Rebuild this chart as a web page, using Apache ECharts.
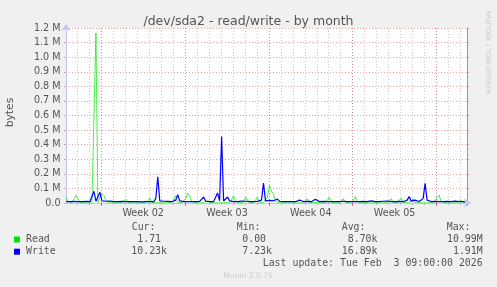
<!DOCTYPE html>
<html><head><meta charset="utf-8">
<script src="https://cdn.jsdelivr.net/npm/echarts@6/dist/echarts.min.js"></script>
<style>html,body{margin:0;padding:0;background:#f0f0f0}#c{width:497px;height:287px}</style>
</head><body><div id="c"></div>
<script>
// ---- data ----
const chartTitle = '/dev/sda2 - read/write - by month';
const yAxisName = 'bytes';
const seriesNames = ['Read', 'Write'];
// days counted from Mon 29 Dec 2025 00:00 (start of ISO week 1 of 2026)
const rangeStartDay = 4.05;
const rangeDays = 33.5;
const sampleStepDays = 1 / 6; // 4 hours
// values in millions of bytes
const readValues = [
  0.040,0.010,0.002,0.001,0.003,0.055,0.030,0.002,0.001,0.002,
  0.001,0.001,0.002,0.001,0.002,1.165,0.003,0.040,0.065,0.050,
  0.020,0.002,0.001,0.001,0.002,0.001,0.001,0.002,0.001,0.010,
  0.025,0.003,0.001,0.002,0.001,0.001,0.002,0.001,0.001,0.002,
  0.001,0.010,0.035,0.004,0.001,0.002,0.001,0.001,0.002,0.001,
  0.001,0.002,0.001,0.003,0.020,0.050,0.005,0.001,0.002,0.001,
  0.030,0.065,0.050,0.010,0.001,0.002,0.001,0.001,0.002,0.001,
  0.008,0.020,0.003,0.001,0.002,0.001,0.001,0.002,0.001,0.001,
  0.002,0.001,0.003,0.020,0.050,0.010,0.001,0.002,0.001,0.003,
  0.040,0.030,0.003,0.001,0.002,0.010,0.040,0.005,0.001,0.002,
  0.001,0.040,0.120,0.080,0.060,0.010,0.002,0.001,0.001,0.002,
  0.001,0.001,0.002,0.001,0.001,0.002,0.001,0.001,0.002,0.001,
  0.010,0.030,0.004,0.001,0.002,0.001,0.003,0.015,0.002,0.001,
  0.001,0.010,0.040,0.005,0.001,0.002,0.001,0.001,0.010,0.030,
  0.003,0.001,0.002,0.001,0.015,0.045,0.010,0.001,0.002,0.001,
  0.001,0.002,0.001,0.001,0.002,0.001,0.001,0.002,0.001,0.001,
  0.002,0.001,0.010,0.030,0.003,0.001,0.002,0.010,0.035,0.004,
  0.001,0.002,0.001,0.010,0.030,0.003,0.001,0.002,0.001,0.001,
  0.002,0.001,0.001,0.002,0.001,0.010,0.040,0.055,0.010,0.001,
  0.002,0.001,0.001,0.002,0.001,0.001,0.002,0.008,0.020,0.002,
  0.001
];
const writeValues = [
  0.010,0.014,0.010,0.016,0.011,0.009,0.010,0.008,0.010,0.009,
  0.011,0.010,0.009,0.020,0.080,0.012,0.020,0.073,0.014,0.010,
  0.012,0.009,0.013,0.010,0.009,0.011,0.010,0.008,0.011,0.010,
  0.009,0.012,0.010,0.009,0.010,0.011,0.009,0.010,0.008,0.011,
  0.010,0.009,0.010,0.012,0.010,0.030,0.180,0.015,0.010,0.012,
  0.009,0.011,0.010,0.009,0.012,0.020,0.057,0.015,0.010,0.009,
  0.011,0.010,0.009,0.010,0.012,0.010,0.009,0.011,0.015,0.041,
  0.012,0.010,0.009,0.011,0.010,0.012,0.068,0.015,0.456,0.014,
  0.012,0.041,0.015,0.010,0.009,0.011,0.010,0.009,0.013,0.020,
  0.012,0.010,0.009,0.011,0.010,0.009,0.011,0.010,0.020,0.137,
  0.015,0.012,0.018,0.013,0.015,0.012,0.027,0.012,0.010,0.009,
  0.011,0.010,0.009,0.010,0.011,0.009,0.012,0.020,0.011,0.010,
  0.009,0.011,0.010,0.009,0.013,0.025,0.012,0.010,0.009,0.011,
  0.010,0.009,0.011,0.010,0.009,0.010,0.011,0.009,0.010,0.012,
  0.010,0.009,0.011,0.010,0.009,0.010,0.011,0.009,0.010,0.011,
  0.009,0.010,0.011,0.014,0.010,0.009,0.011,0.010,0.009,0.012,
  0.020,0.013,0.010,0.009,0.011,0.010,0.009,0.011,0.010,0.009,
  0.012,0.020,0.044,0.013,0.011,0.020,0.012,0.010,0.011,0.030,
  0.135,0.020,0.011,0.010,0.009,0.011,0.010,0.009,0.011,0.010,
  0.009,0.011,0.010,0.009,0.011,0.013,0.010,0.009,0.011,0.010,
  0.010
];
const statHeaders = ['Cur:', 'Min:', 'Avg:', 'Max:'];
const readStats = [1.71, 0, 8700, 10990000];
const writeStats = [10230, 7230, 16890, 1910000];
const lastUpdateText = 'Last update: Tue Feb  3 09:00:00 2026';
const footerText = 'Munin 2.0.75';
const watermarkText = 'RRDTOOL / TOBI OETIKER';
const yMax = 1.2, yStep = 0.1;

// ---- layout / styling ----
const colors = ['#00e600', '#0000ff'];
const SANS = '"DejaVu Sans", sans-serif';
const MONO = '"DejaVu Sans Mono", monospace';
const TXT = '#555555';
const AXIS = '#c4c4f4';
const MGRID = 'rgba(215,90,90,0.55)';
const GRID = 'rgba(170,170,170,0.6)';
const PL = 66, PR = 30, PT = 28, PB = 84, W = 497;
const plotW = W - PL - PR;

function toPairs(vals) { return vals.map((v, i) => [rangeStartDay + i * sampleStepDays, v]); }
function fmtStat(v) {
  if (v >= 1e6) return (v / 1e6).toFixed(2) + 'M';
  if (v >= 1e3) return (v / 1e3).toFixed(2) + 'k';
  return v.toFixed(2) + ' ';
}
const xMin = rangeStartDay, xMax = rangeStartDay + rangeDays;
const ppd = plotW / rangeDays;
// helper grids whose axes start exactly on a tick (day / week boundary / mid-week)
const dayMin = Math.ceil(xMin);
const weekMin = Math.ceil(xMin / 7) * 7;
const midMin = weekMin + 3.5;
const leftFor = m => PL + (m - xMin) * ppd;

const chart = echarts.init(document.getElementById('c'), null, {renderer: 'canvas'});
const colRight = [167, 272, 377.5, 482.7];
const colLeft = [131.7, 236.7, 341.7, 446.7];
const graphics = [];
statHeaders.forEach((h, k) => graphics.push({type: 'text', x: colLeft[k], y: 227.5,
  style: {text: h, font: '9.9px ' + MONO, fill: TXT, textAlign: 'left', textVerticalAlign: 'middle'}}));
[readStats, writeStats].forEach((st, r) => {
  const y = 239.5 + r * 12.2;
  graphics.push({type: 'rect', shape: {x: 14, y: y - 3, width: 6, height: 6}, style: {fill: colors[r]}});
  graphics.push({type: 'text', x: 26, y: y, style: {text: seriesNames[r], font: '9.9px ' + MONO, fill: TXT, textAlign: 'left', textVerticalAlign: 'middle'}});
  st.forEach((v, k) => graphics.push({type: 'text', x: colRight[k], y: y,
    style: {text: fmtStat(v), font: '9.9px ' + MONO, fill: TXT, textAlign: 'right', textVerticalAlign: 'middle'}}));
});
graphics.push({type: 'text', x: 482.7, y: 263.5, style: {text: lastUpdateText, font: '9.9px ' + MONO, fill: TXT, textAlign: 'right', textVerticalAlign: 'middle'}});
graphics.push({type: 'text', x: 248, y: 276, style: {text: footerText, font: '7.6px ' + SANS, fill: '#cccccc', textAlign: 'center', textVerticalAlign: 'middle'}});
graphics.push({type: 'text', x: 488, y: 52, rotation: -Math.PI / 2, style: {text: watermarkText, font: '6.5px ' + SANS, fill: '#c8c8c8', textAlign: 'center', textVerticalAlign: 'middle'}});
graphics.push({type: 'text', x: 10, y: 112.5, rotation: Math.PI / 2, style: {text: yAxisName, font: '10.8px ' + SANS, fill: TXT, textAlign: 'center', textVerticalAlign: 'middle'}});

const hiddenY = gi => ({type: 'value', gridIndex: gi, min: 0, max: 1, show: false});
const option = {
  animation: false,
  backgroundColor: '#f0f0f0',
  title: {text: chartTitle, left: 'center', top: 10,
    textStyle: {fontFamily: SANS, fontSize: 12.5, fontWeight: 'normal', color: TXT}},
  grid: [
    {left: PL, right: PR, top: PT, bottom: PB, show: true, backgroundColor: '#ffffff', borderWidth: 0},
    {left: leftFor(dayMin), right: PR, top: PT, bottom: PB},
    {left: leftFor(weekMin), right: PR, top: PT, bottom: PB},
    {left: leftFor(midMin), right: PR, top: PT, bottom: PB}
  ],
  xAxis: [
    {type: 'value', gridIndex: 0, min: xMin, max: xMax,
      axisLine: {show: true, onZero: false, lineStyle: {color: AXIS, width: 1}, symbol: ['none', 'arrow'], symbolSize: [7, 7], symbolOffset: [0, 4]},
      axisTick: {show: false}, axisLabel: {show: false}, splitLine: {show: false}},
    {type: 'value', gridIndex: 1, min: dayMin, max: xMax, interval: 1,
      axisLine: {show: false}, axisTick: {show: true, length: 2, lineStyle: {color: '#bbbbbb'}},
      axisLabel: {show: false},
      splitLine: {show: true, showMinLine: true, showMaxLine: false, lineStyle: {color: GRID, type: [1, 2]}}},
    {type: 'value', gridIndex: 2, min: weekMin, max: xMax, interval: 7,
      axisLine: {show: false}, axisTick: {show: true, length: 3, lineStyle: {color: 'rgba(215,90,90,0.8)'}},
      axisLabel: {show: false},
      splitLine: {show: true, showMinLine: true, showMaxLine: false, lineStyle: {color: MGRID, type: [1, 2]}}},
    {type: 'value', gridIndex: 3, min: midMin, max: xMax, interval: 7,
      axisLine: {show: false}, axisTick: {show: false}, splitLine: {show: false},
      axisLabel: {show: true, showMinLabel: true, showMaxLabel: false, margin: 5, color: TXT, fontFamily: SANS, fontSize: 9.6,
        formatter: v => (v < xMax - 1 ? 'Week ' + String(Math.round((v - 3.5) / 7) + 1).padStart(2, '0') : '')}}
  ],
  yAxis: [
    {type: 'value', gridIndex: 0, min: 0, max: yMax, interval: yStep, position: 'left',
      axisLine: {show: true, lineStyle: {color: AXIS, width: 1}, symbol: ['none', 'arrow'], symbolSize: [7, 7], symbolOffset: [0, 4]},
      axisTick: {show: true, length: 2, lineStyle: {color: MGRID}},
      axisLabel: {margin: 5.5, color: TXT, fontFamily: SANS, fontSize: 9.6,
        formatter: v => (Math.abs(v) < 1e-9 ? '0.0' : v.toFixed(1) + ' M')},
      splitLine: {show: true, showMinLine: false, lineStyle: {color: MGRID, type: [1, 2]}}},
    {type: 'value', gridIndex: 0, min: 0, max: yMax, interval: yStep, position: 'right',
      axisLine: {show: true, lineStyle: {color: '#999999', width: 1}},
      axisTick: {show: true, length: 2, lineStyle: {color: MGRID}},
      axisLabel: {show: false}, splitLine: {show: false}},
    hiddenY(1), hiddenY(2), hiddenY(3)
  ],
  series: [
    {name: seriesNames[0], type: 'line', xAxisIndex: 0, yAxisIndex: 0, data: toPairs(readValues),
      symbol: 'none', lineStyle: {color: colors[0], width: 1, opacity: 0.7}, z: 3},
    {name: seriesNames[1], type: 'line', xAxisIndex: 0, yAxisIndex: 0, data: toPairs(writeValues),
      symbol: 'none', lineStyle: {color: colors[1], width: 1.2}, z: 4}
  ],
  graphic: graphics
};
chart.setOption(option);
</script></body></html>
